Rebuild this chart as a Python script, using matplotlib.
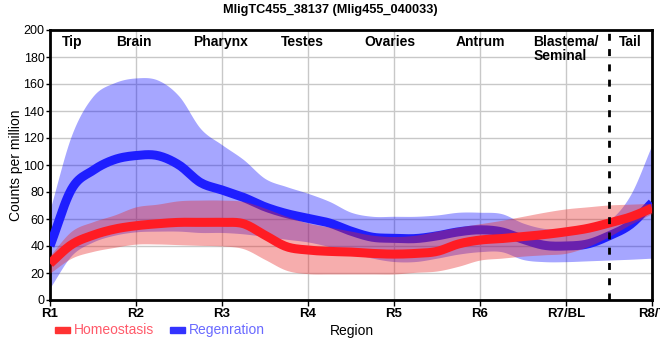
import numpy as np
import matplotlib
matplotlib.use("Agg")
import matplotlib.pyplot as plt
from matplotlib.patches import Rectangle

plt.rcParams["font.family"] = ["Liberation Sans", "DejaVu Sans"]

# region ticks and labels
tick_labels = ["R1", "R2", "R3", "R4", "R5", "R6", "R7/BL", "R8/T"]
regions = ["Tip", "Brain", "Pharynx", "Testes", "Ovaries", "Antrum", "Blastema/\nSeminal", "Tail"]
region_x = [0.26, 0.97, 1.98, 2.93, 3.95, 5.0, 5.62, 6.75]

# sample positions along the body (in region units, R1 = 0)
pos = np.arange(0, 7.01, 0.25)

# Regeneration (blue): mean and band
regen_mean = [40, 82, 96, 104, 107, 107, 100, 87, 81.5, 76, 69, 64, 60.5, 57, 51, 46.5,
              45.7, 45.5, 47.5, 50.5, 52, 50.5, 45, 40.5, 40, 41.5, 47.5, 56, 72]
regen_hi = [67, 122, 151, 161, 164.5, 163, 151, 127, 115, 104, 90, 84, 79, 73, 65, 62,
            62, 62, 63, 65, 65, 64, 57, 53, 53, 54, 59, 78, 115]
regen_lo = [9, 33, 43, 48, 50.5, 51, 51, 50, 50, 49, 47, 45, 43, 39.5, 35, 31,
            28.5, 28.5, 31, 34, 35.8, 35.8, 30, 28.4, 28.4, 29, 29.6, 30.2, 31]

# Homeostasis (red): mean and band
homeo_mean = [27, 41, 48, 52.5, 55, 56.5, 57.5, 57.5, 57.5, 56.5, 48, 39.5, 37, 36, 35.5, 34.5,
              34, 34.5, 36, 41.5, 44.4, 45.5, 47, 48.5, 50.5, 53, 57, 61.5, 68]
homeo_hi = [33, 51, 58, 63, 69, 71, 73.5, 74, 74, 73, 68, 62, 57, 54, 51, 48,
            47, 48, 51, 54, 56.5, 59, 62, 65, 67.5, 69, 70.4, 71, 71.6]
homeo_lo = [20, 31, 36, 39, 41.4, 41.5, 41, 40.5, 40, 38, 30, 22, 19.5, 19.3, 19.3, 19.3,
            19.3, 20.5, 21.5, 25, 29.6, 31, 32.5, 33.5, 34.6, 39.5, 47, 56, 64]


def spline(x, y, n=12):
    # catmull-rom curve through the read points, for drawing only
    x = np.asarray(x, float)
    y = np.asarray(y, float)
    yp = np.r_[2 * y[0] - y[1], y, 2 * y[-1] - y[-2]]
    t = np.linspace(0, 1, n, endpoint=False)
    xs, ys = [], []
    for i in range(len(y) - 1):
        p0, p1, p2, p3 = yp[i:i + 4]
        ys.append(0.5 * (2 * p1 + (-p0 + p2) * t + (2 * p0 - 5 * p1 + 4 * p2 - p3) * t ** 2
                         + (-p0 + 3 * p1 - 3 * p2 + p3) * t ** 3))
        xs.append(x[i] + (x[i + 1] - x[i]) * t)
    return np.r_[np.concatenate(xs), x[-1]], np.r_[np.concatenate(ys), y[-1]]


fig = plt.figure(figsize=(6.6, 3.6), dpi=100)
ax = fig.add_axes([50 / 660, 1 - 300 / 360, 602 / 660, 270 / 360])

xs, lo = spline(pos, regen_lo)
_, hi = spline(pos, regen_hi)
ax.fill_between(xs, lo, hi, color="#0000ff", alpha=0.35, linewidth=0, zorder=2)
ax.plot(*spline(pos, regen_mean), color="#1e1eff", lw=6.5, solid_capstyle="butt", zorder=3)

xs, lo = spline(pos, homeo_lo)
_, hi = spline(pos, homeo_hi)
ax.fill_between(xs, lo, hi, color="#e82828", alpha=0.38, linewidth=0, zorder=4)
ax.plot(*spline(pos, homeo_mean), color="#ff1c24", lw=6.5, solid_capstyle="butt", zorder=5)

ax.axvline(6.5, color="black", lw=2, ls=(0, (2.5, 3)), zorder=6)

ax.set_xlim(0, 7)
ax.set_ylim(0, 200)
ax.set_xticks(range(8))
ax.set_xticklabels(tick_labels, fontweight="bold", fontsize=9.5)
ax.set_yticks(range(0, 201, 20))
ax.tick_params(axis="y", labelsize=9, length=3, width=1, pad=1)
ax.tick_params(axis="x", length=4, width=1, pad=2)
ax.grid(True, color="#c8c8c8", lw=1, zorder=0)
ax.set_axisbelow(True)
for s in ax.spines.values():
    s.set_linewidth(2)

ax.set_ylabel("Counts per million", fontsize=10)
ax.yaxis.set_label_coords(-27 / 602, 0.5)

for name, x in zip(regions, region_x):
    ha = "left" if "\n" in name else "center"
    ax.text(x, 196, name, ha=ha, va="top", fontsize=10, fontweight="bold",
            linespacing=0.95, zorder=7)

fig.text(0.5, 1 - 10 / 360, "MligTC455_38137 (Mlig455_040033)", ha="center", va="center",
         fontsize=9.2, fontweight="bold")

# legend and axis title along the bottom
fig.patches.append(Rectangle((55 / 660, 1 - 333 / 360), 15 / 660, 6 / 360,
                             transform=fig.transFigure, color="#ff3333"))
fig.text(74 / 660, 1 - 330 / 360, "Homeostasis", color="#ff5a6a", fontsize=10,
         va="center", ha="left")
fig.patches.append(Rectangle((170 / 660, 1 - 333 / 360), 15 / 660, 6 / 360,
                             transform=fig.transFigure, color="#3333ff"))
fig.text(189 / 660, 1 - 330 / 360, "Regenration", color="#6a6aff", fontsize=10,
         va="center", ha="left")
fig.text(352 / 660, 1 - 331 / 360, "Region", color="black", fontsize=10, va="center", ha="center")

fig.savefig("out.png", dpi=100)
